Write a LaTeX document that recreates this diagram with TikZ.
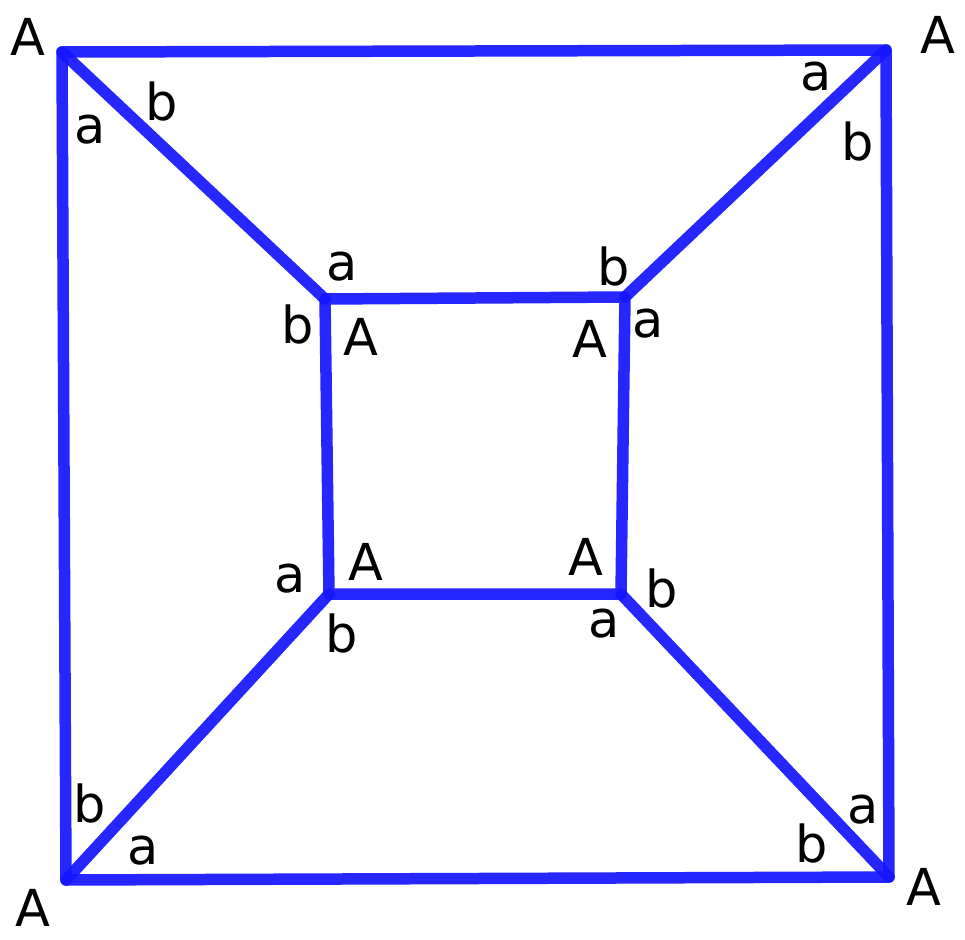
\documentclass[tikz,border=0pt]{standalone}
\usepackage{fontspec}
\setmainfont{DejaVu Sans}
\usetikzlibrary{positioning}
\definecolor{edgeblue}{RGB}{20,20,255}
\tikzset{
	edge/.style  = {draw=edgeblue, draw opacity=.92, line width=0.23cm,
		line cap=round, line join=round},
	lbl/.style   = {anchor=base, inner sep=0pt, font=\fontsize{29}{29}\selectfont},
}

\begin{document}
\begin{tikzpicture}[x=0.02cm, y=-0.02cm]
    \useasboundingbox (0,0) rectangle (965,940);

    \draw%-----------------------------------------------------------------------------------------
    	%Outer square corners:
    	coordinate (o1) at (62,52)
    	coordinate (o2) at (886,50)
    	coordinate (o3) at (889,877)
    	coordinate (o4) at (66,880)
    	%Inner square corners:
    	coordinate (i1) at (325,299)
    	coordinate (i2) at (625,297)
    	coordinate (i3) at (621,594)
    	coordinate (i4) at (329,594)
    ;%---------------------------------------------------------------------------------------------

    %Joining the corners
    \draw[edge] (o1) -- (o2) -- (o3) -- (o4) -- cycle;
    \draw[edge] (i1) -- (i2) -- (i3) -- (i4) -- cycle;
    \draw[edge] (o1) -- (i1);
    \draw[edge] (o2) -- (i2);
    \draw[edge] (o3) -- (i3);
    \draw[edge] (o4) -- (i4);

    %Corner labels
    \draw%--------------------------------------------------------------
    	%outer top left
    	node (A1) [lbl] at (28,55) {A}
    	node (a1) [lbl] at (90,143) {a}
    	node (b1) [lbl] at (162,120) {b}
    	%outer top right
    	node (A2) [lbl] at (938,53) {A}
    	node (a2) [lbl] at (816,90) {a}
    	node (b2) [lbl] at (858,160) {b}
    	%outer bottom right
    	node (A3) [lbl] at (924,905) {A}
    	node (a3) [lbl] at (863,823) {a}
    	node (b3) [lbl] at (812,862) {b}
    	%outer bottom left
    	node (A4) [lbl] at (33,926) {A}
    	node (a4) [lbl] at (143,864) {a}
    	node (b4) [lbl] at (90,822) {b}
    	%inner top left
    	node (A5) [lbl] at (361,355) {A}
    	node (a5) [lbl] at (342,280) {a}
    	node (b5) [lbl] at (298,343) {b}
    	%inner top right
    	node (A6) [lbl] at (590,357) {A}
    	node (a6) [lbl] at (648,337) {a}
    	node (b6) [lbl] at (614,285) {b}
    	%inner bottom right
    	node (A7) [lbl] at (586,575) {A}
    	node (a7) [lbl] at (604,637) {a}
    	node (b7) [lbl] at (662,607) {b}
    	%inner bottom left
    	node (A8) [lbl] at (366,580) {A}
    	node (a8) [lbl] at (290,592) {a}
    	node (b8) [lbl] at (342,652) {b}
    ;%------------------------------------------------------------------
\end{tikzpicture}
\end{document}
